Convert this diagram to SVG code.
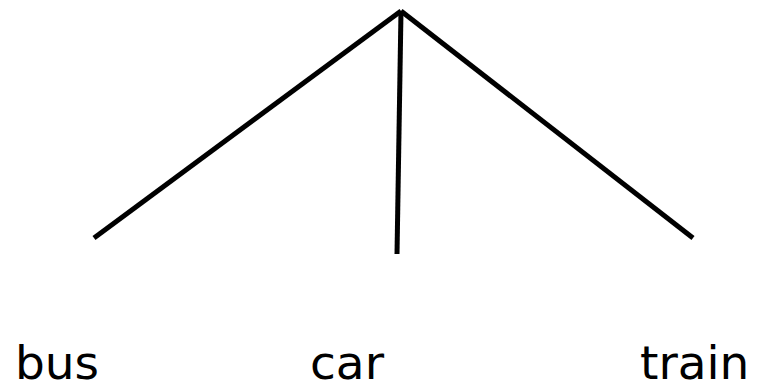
<svg xmlns="http://www.w3.org/2000/svg" width="765" height="384" viewBox="0 0 765 384">
<style>
.edge{stroke:#000;stroke-width:5;fill:none}
.lbl{font-family:"DejaVu Sans",Verdana,sans-serif;font-size:47px;fill:#000}
</style>
<rect width="765" height="384" fill="#fff"/>
<g id="connectors">
<line class="edge" x1="401" y1="11" x2="94" y2="238"/>
<line class="edge" x1="401" y1="11" x2="397" y2="254"/>
<line class="edge" x1="401" y1="11" x2="693" y2="238"/>
</g>
<g id="bus"><text class="lbl" x="15" y="379">bus</text></g>
<g id="car"><text class="lbl" x="310" y="379">car</text></g>
<g id="train"><text class="lbl" x="640" y="379">train</text></g>
</svg>
